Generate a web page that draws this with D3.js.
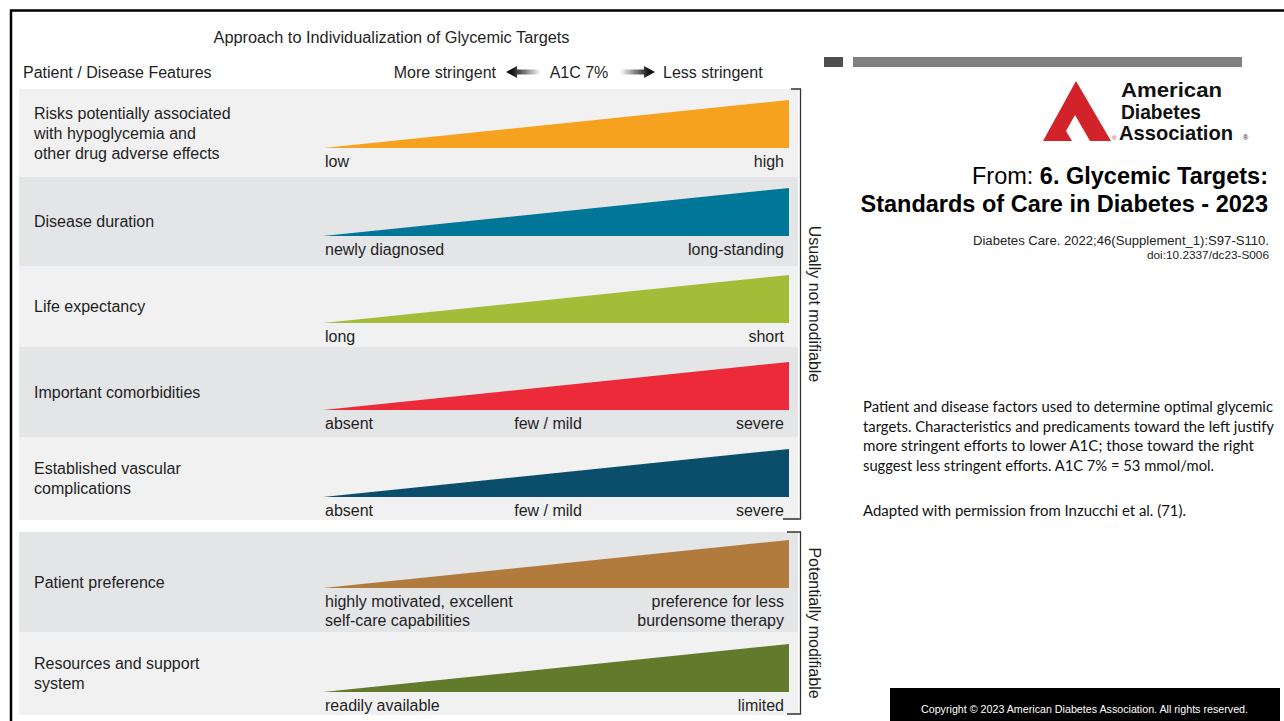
<!DOCTYPE html>
<html>
<head>
<meta charset="utf-8">
<script src="https://cdn.jsdelivr.net/npm/d3@7"></script>
<style>
  html, body { margin: 0; padding: 0; background: #fff; }
  svg { display: block; font-family: "Liberation Sans", Arial, Helvetica, sans-serif; }
</style>
</head>
<body>
<svg id="chart" width="1284" height="721"></svg>
<script>
// ---- Content -------------------------------------------------------------
const figureTitle = "Approach to Individualization of Glycemic Targets";
const featuresHeader = "Patient / Disease Features";
const directionLabels = ["More stringent", "A1C 7%", "Less stringent"];

const features = [
  ["Risks potentially associated", "with hypoglycemia and", "other drug adverse effects"],
  ["Disease duration"],
  ["Life expectancy"],
  ["Important comorbidities"],
  ["Established vascular", "complications"],
  ["Patient preference"],
  ["Resources and support", "system"]
];
const leftLabels = [
  ["low"], ["newly diagnosed"], ["long"], ["absent"], ["absent"],
  ["highly motivated, excellent", "self-care capabilities"], ["readily available"]
];
const midLabels = ["", "", "", "few / mild", "few / mild", "", ""];
const rightLabels = [
  ["high"], ["long-standing"], ["short"], ["severe"], ["severe"],
  ["preference for less", "burdensome therapy"], ["limited"]
];
const wedgeColors = ["#f7a21e", "#007699", "#a3bd38", "#ec2a3a", "#0a4e6b", "#b07b3d", "#627a2b"];
const bandColors = ["#f1f1f1", "#e4e5e7", "#f1f1f1", "#e4e5e7", "#f1f1f1", "#e4e5e7", "#f1f1f1"];

// Each wedge rises from no weight (most stringent end) to full weight (least stringent end)
const wedgePosition = [0, 1];
const wedgeWeight = [0, 1];

const groupNames = ["Usually not modifiable", "Potentially modifiable"];
const groupRows = [[0, 4], [5, 6]];

const sourceLogoLines = ["American", "Diabetes", "Association"];
const sourceFrom = "From: ";
const sourceTitle1 = "6. Glycemic Targets:";
const sourceTitle2 = "Standards of Care in Diabetes - 2023";
const citation = ["Diabetes Care. 2022;46(Supplement_1):S97-S110.", "doi:10.2337/dc23-S006"];
const caption = [
  "Patient and disease factors used to determine optimal glycemic",
  "targets. Characteristics and predicaments toward the left justify",
  "more stringent efforts to lower A1C; those toward the right",
  "suggest less stringent efforts. A1C 7% = 53 mmol/mol."
];
const adaptedNote = "Adapted with permission from Inzucchi et al. (71).";
const copyright = "Copyright \u00a9 2023 American Diabetes Association. All rights reserved.";

// ---- Layout --------------------------------------------------------------
const bandTop = [89, 177, 266, 347, 437, 532, 632];
const bandBottom = [177, 266, 347, 437, 520, 632, 715];
const wedgeBase = [148, 236, 323, 410, 497, 588, 692];
const wedgeHeight = 48;
const bandLeft = 19, bandRight = 798;
const lineGap = 20;
const textColor = "#1f1f1f";

const svg = d3.select("#chart");
const defs = svg.append("defs");

function label(parent, xPos, yPos, str, size, anchor) {
  return parent.append("text").attr("x", xPos).attr("y", yPos)
    .attr("font-size", size).attr("text-anchor", anchor || "start")
    .attr("fill", textColor).text(str);
}

// Frame lines
svg.append("path")
  .attr("d", "M11,721 V10.5 H1284")
  .attr("fill", "none").attr("stroke", "#000").attr("stroke-width", 2.5);

// Header text
label(svg, 391.5, 43, figureTitle, 16, "middle")
  .attr("textLength", 356).attr("lengthAdjust", "spacingAndGlyphs");
label(svg, 23, 78, featuresHeader, 16);
label(svg, 496, 78, directionLabels[0], 16, "end");
label(svg, 579, 78, directionLabels[1], 16, "middle");
label(svg, 663, 78, directionLabels[2], 16);

// Fading arrows either side of the A1C label
function fadeGradient(id, x1, x2) {
  const g = defs.append("linearGradient").attr("id", id)
    .attr("gradientUnits", "userSpaceOnUse")
    .attr("x1", x1).attr("x2", x2).attr("y1", 0).attr("y2", 0);
  g.append("stop").attr("offset", 0).attr("stop-color", "#111");
  g.append("stop").attr("offset", 1).attr("stop-color", "#fff");
}
fadeGradient("fadeLeft", 512, 541);
fadeGradient("fadeRight", 649, 620);
svg.append("path").attr("fill", "url(#fadeLeft)")
  .attr("d", "M506,72 L517,66 L517,69.5 L541,69.5 L541,74.5 L517,74.5 L517,78 Z");
svg.append("path").attr("fill", "url(#fadeRight)")
  .attr("d", "M655,72 L644,66 L644,69.5 L620,69.5 L620,74.5 L644,74.5 L644,78 Z");

// ---- Rows ----------------------------------------------------------------
const x = d3.scaleLinear().domain([0, 1]).range([323, 789]);

const rows = svg.append("g").selectAll("g.row")
  .data(features.map((f, i) => i))
  .join("g").attr("class", "row");

rows.append("rect")
  .attr("x", bandLeft).attr("width", bandRight - bandLeft)
  .attr("y", i => bandTop[i]).attr("height", i => bandBottom[i] - bandTop[i])
  .attr("fill", i => bandColors[i]);

rows.append("path")
  .attr("fill", i => wedgeColors[i])
  .attr("d", i => {
    const y = d3.scaleLinear().domain([0, 1]).range([wedgeBase[i], wedgeBase[i] - wedgeHeight]);
    const pts = wedgePosition.map((p, k) => ({ p, w: wedgeWeight[k] }));
    return d3.area().x(d => x(d.p)).y0(wedgeBase[i]).y1(d => y(d.w))(pts);
  });

// Feature names, vertically centred in each band, and scale end labels
rows.each(function(i) {
  const g = d3.select(this);
  const mid = (bandTop[i] + bandBottom[i]) / 2 + 5.5;
  const n = features[i].length;
  features[i].forEach((line, k) => {
    label(g, 34, mid + (k - (n - 1) / 2) * lineGap, line, 16);
  });
  const baseY = wedgeBase[i] + 18.5;
  leftLabels[i].forEach((line, k) => label(g, 325, baseY + k * 19.5, line, 16));
  rightLabels[i].forEach((line, k) => label(g, 784, baseY + k * 19.5, line, 16, "end"));
  if (midLabels[i]) label(g, 548, baseY, midLabels[i], 16, "middle");
});

// Group brackets and rotated group names
groupNames.forEach((name, gi) => {
  const top = bandTop[groupRows[gi][0]];
  const bottom = bandBottom[groupRows[gi][1]] - 1;
  const topTick = gi === 0 ? 791 : 787;
  const botTick = gi === 0 ? 783 : 787;
  svg.append("path")
    .attr("d", `M${topTick},${top} H800.5 V${bottom} H${botTick}`)
    .attr("fill", "none").attr("stroke", "#333").attr("stroke-width", 1.3);
  svg.append("text")
    .attr("transform", `translate(809,${(top + bottom) / 2}) rotate(90)`)
    .attr("text-anchor", "middle").attr("font-size", 16).attr("fill", textColor).text(name);
});

// ---- Source panel --------------------------------------------------------
svg.append("rect").attr("x", 824).attr("y", 57).attr("width", 19).attr("height", 10).attr("fill", "#4f4f4f");
svg.append("rect").attr("x", 853).attr("y", 57).attr("width", 389).attr("height", 10).attr("fill", "#808080");

// Logo mark
const logoRed = "#d2232a";
svg.append("path").attr("fill", logoRed)
  .attr("d", "M1076,81 L1111,141 L1090,141 L1075,115 L1066,131 L1072,141 L1043,141 Z");
const logoY = [97, 119, 140];
const logoX = [1121, 1121, 1119];
const logoW = [101, 80, 114];
sourceLogoLines.forEach((t, k) => {
  svg.append("text").attr("x", logoX[k]).attr("y", logoY[k])
    .attr("font-size", 21).attr("font-weight", "bold").attr("fill", "#111")
    .attr("textLength", logoW[k]).attr("lengthAdjust", "spacingAndGlyphs").text(t);
});
svg.append("text").attr("x", 1112).attr("y", 140).attr("font-size", 6).attr("fill", logoRed).text("\u00ae");
svg.append("text").attr("x", 1243).attr("y", 140).attr("font-size", 7).attr("fill", "#111").text("\u00ae");

const from = svg.append("text").attr("x", 1268).attr("y", 184)
  .attr("text-anchor", "end").attr("font-size", 23.5).attr("fill", "#000");
from.append("tspan").text(sourceFrom);
from.append("tspan").attr("font-weight", "bold").text(sourceTitle1);
svg.append("text").attr("x", 1268).attr("y", 212).attr("text-anchor", "end")
  .attr("font-size", 23.5).attr("font-weight", "bold").attr("fill", "#000").text(sourceTitle2);

svg.append("text").attr("x", 1269).attr("y", 244.5)
  .attr("text-anchor", "end").attr("font-size", 12.5).attr("fill", "#222")
  .attr("textLength", 296).attr("lengthAdjust", "spacingAndGlyphs").text(citation[0]);
svg.append("text").attr("x", 1269).attr("y", 259)
  .attr("text-anchor", "end").attr("font-size", 11.8).attr("fill", "#222").text(citation[1]);

const captionFont = "Lato, 'Open Sans', sans-serif";
const captionW = [410, 411, 391, 351];
caption.forEach((t, k) => {
  svg.append("text").attr("x", 863).attr("y", 412 + k * 19.5)
    .style("font-family", captionFont).attr("font-size", 14.5)
    .attr("fill", "#111")
    .attr("textLength", captionW[k]).attr("lengthAdjust", "spacingAndGlyphs").text(t);
});
svg.append("text").attr("x", 863).attr("y", 516)
  .style("font-family", captionFont).attr("font-size", 14.5)
  .attr("fill", "#111")
  .attr("textLength", 323).attr("lengthAdjust", "spacingAndGlyphs").text(adaptedNote);

svg.append("rect").attr("x", 890).attr("y", 688).attr("width", 390).attr("height", 33).attr("fill", "#000");
svg.append("text").attr("x", 921).attr("y", 713).attr("font-size", 10.5).attr("fill", "#fff")
  .attr("textLength", 327).attr("lengthAdjust", "spacingAndGlyphs").text(copyright);
</script>
</body>
</html>
